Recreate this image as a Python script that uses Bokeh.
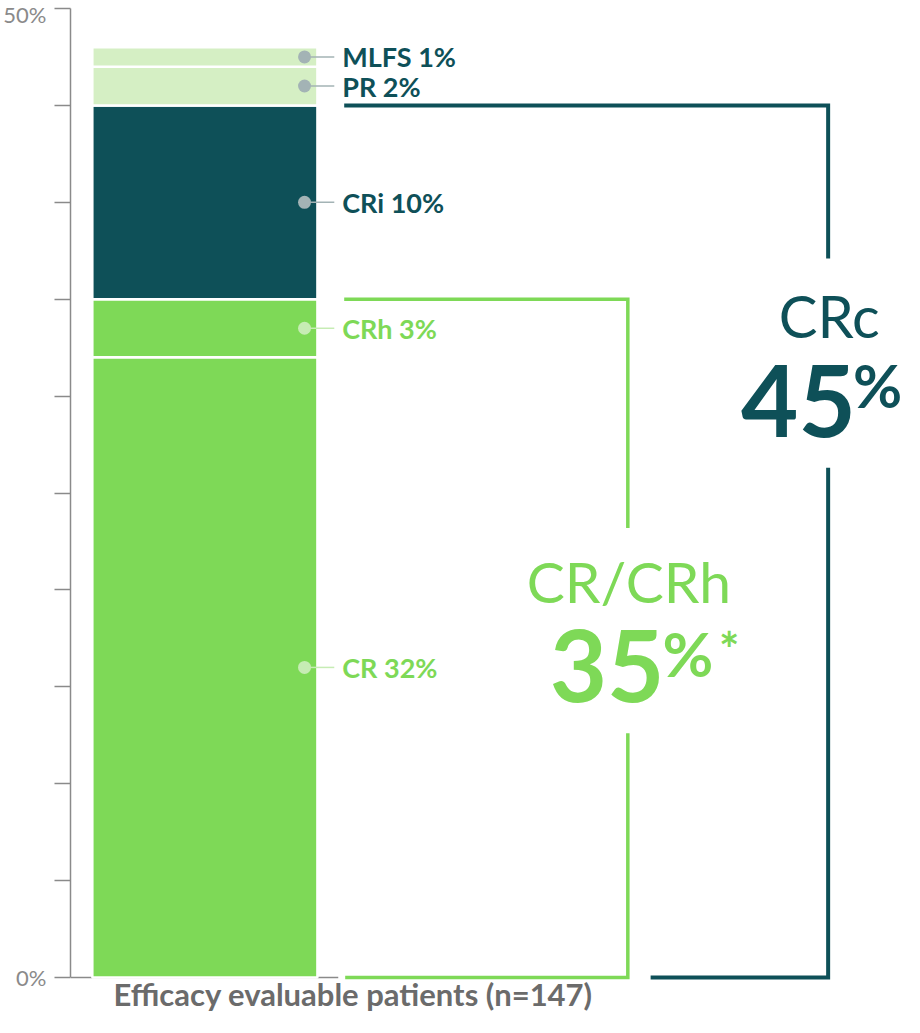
from bokeh.plotting import figure
from bokeh.models import Range1d, FixedTicker, ColumnDataSource
from bokeh.core.properties import value
from bokeh.embed import file_html
from bokeh.resources import INLINE
import numpy as np

# ---- data ----
categories = ["CR", "CRh", "CRi", "PR", "MLFS"]
values = [32, 3, 10, 2, 1]
bar_colors = ["#7ED957", "#7ED957", "#0E5058", "#D5EFC4", "#D5EFC4"]
dot_colors = ["#C6ECB4", "#C6ECB4", "#A3B3B5", "#A3B3B5", "#A3B3B5"]
label_colors = ["#7ED957", "#7ED957", "#0E5058", "#0E5058", "#0E5058"]
cr_crh_groups = ["CR", "CRh"]
crc_groups = ["CR", "CRh", "CRi"]
axis_ticks = [0, 5, 10, 15, 20, 25, 30, 35, 40, 45, 50]
tick_text = {0: "0%", 50: "50%"}
x_label = "Efficacy evaluable patients (n=147)"

GREEN = "#7ED957"
DARK = "#0E5058"
FONT = value("Lato")

tops = np.cumsum(values)
bottoms = tops - np.array(values)
mids = (tops + bottoms) / 2
labels = [f"{c} {v}%" for c, v in zip(categories, values)]
cr_crh = sum(v for c, v in zip(categories, values) if c in cr_crh_groups)
crc = sum(v for c, v in zip(categories, values) if c in crc_groups)

# ---- layout ----
W, H = 904, 1012
LEFT = 63
TOP_PAD = 8
Y0 = 977
PX = (Y0 - TOP_PAD) / 50.0
y_top = 50 + TOP_PAD / PX
y_bot = -(H - Y0) / PX

p = figure(width=W, height=H, x_range=Range1d(0, W - LEFT), y_range=Range1d(y_bot, y_top),
           output_backend="svg", toolbar_location=None, title=None,
           x_axis_location=None, y_axis_location="left",
           min_border_left=LEFT, min_border_right=0, min_border_top=0, min_border_bottom=0)
p.outline_line_color = None
p.grid.visible = False
p.background_fill_color = "white"

ax = p.yaxis[0]
ax.ticker = FixedTicker(ticks=axis_ticks)
ax.bounds = (0, 50)
ax.major_label_overrides = {t: tick_text.get(t, "") for t in axis_ticks}
ax.major_tick_out = 16
ax.major_tick_in = 0
ax.minor_tick_line_color = None
ax.axis_line_color = "#8A8A8A"
ax.major_tick_line_color = "#8A8A8A"
ax.axis_line_width = 1.5
ax.major_tick_line_width = 1.5
ax.major_label_text_font = "Lato"
ax.major_label_text_font_size = "22px"
ax.major_label_text_color = "#8A8A8A"
ax.major_label_standoff = 8

# baseline (x axis line)
p.segment(x0=[0], x1=[270], y0=[0], y1=[0], line_color="#8A8A8A", line_width=1.5)

# stacked bar
src = ColumnDataSource(dict(bottom=bottoms, top=tops, color=bar_colors))
p.vbar(x=135.5, width=227, bottom="bottom", top="top", fill_color="color",
       line_color="white", line_width=2.5, source=src)

# markers + leaders + labels
p.segment(x0=242, x1=266, y0=mids, y1=mids, line_color=dot_colors, line_width=1.5)
p.scatter(x=236, y=mids, size=13, fill_color=dot_colors, line_color=None)
p.text(x=274, y=mids, text=labels, text_font=FONT, text_font_style="bold",
       text_font_size="27px", text_color=label_colors, text_baseline="middle", text_align="left")

# brackets
p.multi_line(xs=[[276, 562, 562], [562, 562, 277]],
             ys=[[cr_crh, cr_crh, 23.2], [12.6, 0, 0]],
             line_color=GREEN, line_width=3.5, line_join="miter")
p.multi_line(xs=[[276, 764, 764], [764, 764, 585]],
             ys=[[crc, crc, 37.1], [26.3, 0, 0]],
             line_color=DARK, line_width=4, line_join="miter")

# big CR/CRh annotation
p.text(x=[563], y=[20.45], text=["CR/CRh"], text_font=FONT, text_font_size="57px",
       text_color=GREEN, text_align="center", text_baseline="middle")
p.text(x=[599], y=[16.09], text=[f"{cr_crh}"], text_font=FONT, text_font_style="bold",
       text_font_size="99px", text_color=GREEN, text_align="right", text_baseline="middle")
p.text(x=[597], y=[18.66], text=["%"], text_font=FONT, text_font_style="bold",
       text_font_size="62px", text_color=GREEN, text_align="left", text_baseline="top")
p.text(x=[654], y=[18.44], text=["*"], text_font=FONT, text_font_style="bold",
       text_font_size="48px", text_color=GREEN, text_align="left", text_baseline="top")

# big CRc annotation
p.text(x=[765], y=[34.17], text=["CRc"], text_font=FONT, text_font_size="58px",
       text_color=DARK, text_align="center", text_baseline="middle")
p.text(x=[792], y=[29.78], text=[f"{crc}"], text_font=FONT, text_font_style="bold",
       text_font_size="99px", text_color=DARK, text_align="right", text_baseline="middle")
p.text(x=[789], y=[32.45], text=["%"], text_font=FONT, text_font_style="bold",
       text_font_size="60px", text_color=DARK, text_align="left", text_baseline="top")

# x label
p.text(x=[285], y=[-0.83], text=[x_label], text_font=FONT, text_font_style="bold",
       text_font_size="31px", text_color="#6B6B6B", text_align="center", text_baseline="middle")

open("out.html", "w").write(file_html(p, INLINE))
